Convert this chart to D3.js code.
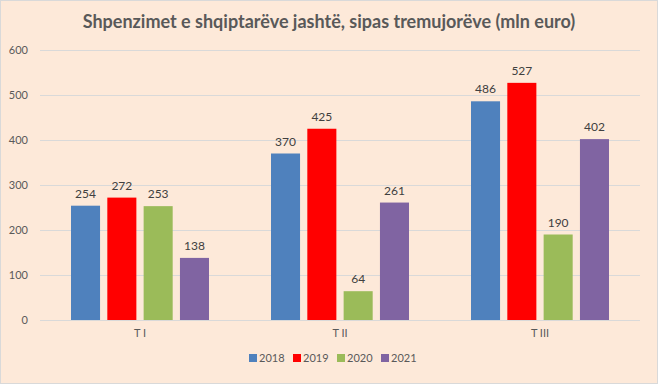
<!DOCTYPE html>
<html>
<head>
<meta charset="utf-8">
<script src="https://cdn.jsdelivr.net/npm/d3@7"></script>
<style>
  body { margin: 0; background: #fff; }
  svg { display: block; font-family: Lato, "Open Sans", sans-serif; }
</style>
</head>
<body>
<div id="chart"></div>
<script>
const categories = ["T I", "T II", "T III"];
const years = ["2018", "2019", "2020", "2021"];
const values2018 = [254, 370, 486];
const values2019 = [272, 425, 527];
const values2020 = [253, 64, 190];
const values2021 = [138, 261, 402];
const yTicks = [0, 100, 200, 300, 400, 500, 600];
const colors = ["#4F81BD", "#FF0000", "#9BBB59", "#8064A2"];

const series = [values2018, values2019, values2020, values2021];
const width = 658, height = 384;
const plot = { left: 40, right: 640, top: 50, bottom: 320 };

const svg = d3.select("#chart").append("svg")
  .attr("width", width).attr("height", height);

svg.append("rect")
  .attr("x", 0.5).attr("y", 0.5)
  .attr("width", width - 1).attr("height", height - 1)
  .attr("fill", "#FDE9D9")
  .attr("stroke", "#D9D9D9");

svg.append("text")
  .attr("x", width / 2).attr("y", 28)
  .attr("text-anchor", "middle")
  .attr("font-size", 18).attr("font-weight", "bold")
  .attr("fill", "#595959")
  .text("Shpenzimet e shqiptarëve jashtë, sipas tremujorëve (mln euro)");

const y = d3.scaleLinear().domain([0, 600]).range([plot.bottom, plot.top]);
const x0 = d3.scaleBand().domain(categories)
  .range([plot.left, plot.right]).paddingInner(0.31).paddingOuter(0.155);
const x1 = d3.scaleBand().domain(years)
  .range([0, x0.bandwidth()]).paddingInner(0.2).paddingOuter(0);

// gridlines
svg.append("g").selectAll("line").data(yTicks).join("line")
  .attr("x1", plot.left).attr("x2", plot.right)
  .attr("y1", d => Math.round(y(d)) + 0.5).attr("y2", d => Math.round(y(d)) + 0.5)
  .attr("stroke", "#D9D9D9");

// y tick labels
svg.append("g").selectAll("text").data(yTicks).join("text")
  .attr("x", 28).attr("y", d => y(d)).attr("dy", "0.35em")
  .attr("text-anchor", "end")
  .attr("font-size", 11).attr("fill", "#595959")
  .text(d => d);

// bars
const groups = svg.append("g").selectAll("g").data(categories).join("g")
  .attr("transform", d => `translate(${x0(d)},0)`);

groups.selectAll("rect")
  .data((c, ci) => years.map((yr, si) => ({ yr, si, v: series[si][ci] })))
  .join("rect")
  .attr("x", d => x1(d.yr))
  .attr("width", x1.bandwidth())
  .attr("y", d => y(d.v))
  .attr("height", d => y(0) - y(d.v))
  .attr("fill", d => colors[d.si]);

groups.selectAll("text")
  .data((c, ci) => years.map((yr, si) => ({ yr, si, v: series[si][ci] })))
  .join("text")
  .attr("x", d => x1(d.yr) + x1.bandwidth() / 2)
  .attr("y", d => y(d.v) - 8)
  .attr("text-anchor", "middle")
  .attr("font-size", 12).attr("fill", "#404040")
  .text(d => d.v);

// category labels
svg.append("g").selectAll("text").data(categories).join("text")
  .attr("x", d => x0(d) + x0.bandwidth() / 2)
  .attr("y", 337)
  .attr("text-anchor", "middle")
  .attr("font-size", 11).attr("fill", "#595959")
  .text(d => d);

// legend
const legend = svg.append("g").attr("transform", "translate(249,362)");
const item = legend.selectAll("g").data(years).join("g")
  .attr("transform", (d, i) => `translate(${i * 44},0)`);
item.append("rect")
  .attr("x", 0).attr("y", -8).attr("width", 8).attr("height", 8)
  .attr("fill", (d, i) => colors[i]);
item.append("text")
  .attr("x", 10).attr("y", 0)
  .attr("font-size", 11).attr("fill", "#595959")
  .text(d => d);
</script>
</body>
</html>
